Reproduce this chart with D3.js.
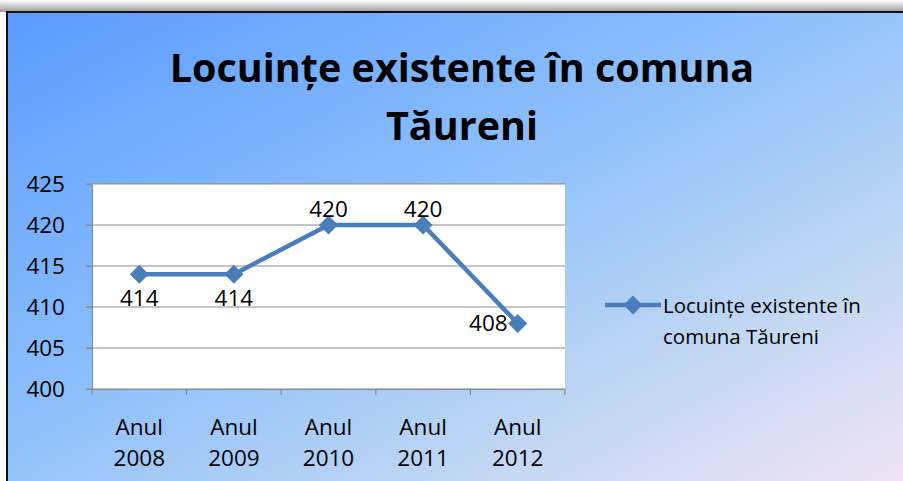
<!DOCTYPE html>
<html>
<head>
<meta charset="utf-8">
<script src="https://cdn.jsdelivr.net/npm/d3@7"></script>
<style>
  body { margin: 0; background: #fff; }
  text { font-family: "Open Sans", "Noto Sans", sans-serif; }
</style>
</head>
<body>
<div id="chart"></div>
<script>
// data
var categories = ["Anul 2008", "Anul 2009", "Anul 2010", "Anul 2011", "Anul 2012"];
var values = [414, 414, 420, 420, 408];
var labelPos = ["below", "below", "above", "above", "left"];
var yTicks = [400, 405, 410, 415, 420, 425];
var seriesName = "Locuințe existente în comuna Tăureni";
var titleLines = ["Locuințe existente în comuna", "Tăureni"];

var W = 903, H = 481;
var svg = d3.select("#chart").append("svg")
    .attr("width", W)
    .attr("height", H);

var defs = svg.append("defs");
var grad = defs.append("linearGradient")
    .attr("id", "bg")
    .attr("x1", "0%").attr("y1", "0%")
    .attr("x2", "100%").attr("y2", "100%");
grad.append("stop").attr("offset", "0%").attr("stop-color", "#5b9bff");
grad.append("stop").attr("offset", "45%").attr("stop-color", "#8fc1fb");
grad.append("stop").attr("offset", "75%").attr("stop-color", "#c4d8f2");
grad.append("stop").attr("offset", "100%").attr("stop-color", "#f4e4f6");

var shadow = defs.append("linearGradient")
    .attr("id", "shadow")
    .attr("x1", "0").attr("y1", "0").attr("x2", "0").attr("y2", "1");
shadow.append("stop").attr("offset", "0%").attr("stop-color", "#ffffff");
shadow.append("stop").attr("offset", "100%").attr("stop-color", "#9a9a9a");

// top shadow band
svg.append("rect")
    .attr("x", 0).attr("y", 0)
    .attr("width", W).attr("height", 12)
    .attr("fill", "url(#shadow)");

// chart frame
svg.append("rect")
    .attr("x", 7).attr("y", 12)
    .attr("width", W + 10).attr("height", H)
    .attr("fill", "url(#bg)")
    .attr("stroke", "#111")
    .attr("stroke-width", 2);

// title
svg.append("g")
    .selectAll("text")
    .data(titleLines)
    .join("text")
    .attr("x", 462)
    .attr("y", function(d, i) { return 82 + i * 58; })
    .attr("text-anchor", "middle")
    .attr("font-size", 39.5)
    .attr("font-weight", "bold")
    .attr("fill", "#000")
    .text(function(d) { return d; });

var plot = {left: 92, top: 184, right: 565, bottom: 389};

var x = d3.scaleBand()
    .domain(categories)
    .range([plot.left, plot.right]);

var y = d3.scaleLinear()
    .domain([400, 425])
    .range([plot.bottom, plot.top]);

// plot background
svg.append("rect")
    .attr("x", plot.left).attr("y", plot.top)
    .attr("width", plot.right - plot.left)
    .attr("height", plot.bottom - plot.top)
    .attr("fill", "#fff");

// gridlines
svg.append("g")
    .selectAll("line")
    .data(yTicks)
    .join("line")
    .attr("x1", plot.left - 6)
    .attr("x2", plot.right)
    .attr("y1", function(d) { return y(d); })
    .attr("y2", function(d) { return y(d); })
    .attr("stroke", "#8c8c8c")
    .attr("stroke-width", 1.2);

// y axis
var yAxis = svg.append("g")
    .attr("transform", "translate(" + plot.left + ",0)")
    .call(d3.axisLeft(y).tickValues(yTicks).tickSize(6).tickSizeOuter(0));
yAxis.select(".domain").attr("stroke", "#8c8c8c").attr("stroke-width", 1.2);
yAxis.selectAll(".tick line").attr("stroke", "#8c8c8c").attr("stroke-width", 1.2);
yAxis.selectAll(".tick text")
    .attr("x", -27)
    .attr("font-size", 22.5)
    .attr("font-family", "Open Sans")
    .attr("fill", "#000");

// x axis
var xAxis = svg.append("g")
    .attr("transform", "translate(0," + plot.bottom + ")")
    .call(d3.axisBottom(x).tickSize(0).tickSizeOuter(0));
xAxis.select(".domain").attr("stroke", "#8c8c8c").attr("stroke-width", 1.2);
xAxis.selectAll(".tick text").remove();
// tick marks at category boundaries
xAxis.selectAll(".bound")
    .data(d3.range(categories.length + 1))
    .join("line")
    .attr("x1", function(i) { return plot.left + i * x.step(); })
    .attr("x2", function(i) { return plot.left + i * x.step(); })
    .attr("y1", 0).attr("y2", 6)
    .attr("stroke", "#8c8c8c").attr("stroke-width", 1.2);
xAxis.selectAll(".tick")
    .append("text")
    .attr("text-anchor", "middle")
    .attr("font-size", 22.5)
    .attr("font-family", "Open Sans")
    .attr("fill", "#000")
    .selectAll("tspan")
    .data(function(d) { return d.split(" "); })
    .join("tspan")
    .attr("x", 0)
    .attr("y", function(d, i) { return 46 + i * 31; })
    .text(function(d) { return d; });

var cx = function(d, i) { return x(categories[i]) + x.bandwidth() / 2; };
var lineColor = "#4a7ebb";

// series line
var line = d3.line()
    .x(function(d, i) { return cx(d, i); })
    .y(function(d) { return y(d); });

svg.append("path")
    .datum(values)
    .attr("fill", "none")
    .attr("stroke", lineColor)
    .attr("stroke-width", 4.5)
    .attr("stroke-linejoin", "round")
    .attr("d", line);

// markers
var diamond = d3.symbol().type(d3.symbolDiamond2).size(230);
svg.append("g")
    .selectAll("path")
    .data(values)
    .join("path")
    .attr("transform", function(d, i) { return "translate(" + cx(d, i) + "," + y(d) + ")"; })
    .attr("d", diamond)
    .attr("fill", lineColor);

// data labels
svg.append("g")
    .selectAll("text")
    .data(values)
    .join("text")
    .attr("x", function(d, i) {
        var p = cx(d, i);
        return labelPos[i] === "left" ? p - 10 : p;
    })
    .attr("y", function(d, i) {
        var p = y(d);
        if (labelPos[i] === "below") return p + 32;
        if (labelPos[i] === "above") return p - 8;
        return p + 8;
    })
    .attr("text-anchor", function(d, i) { return labelPos[i] === "left" ? "end" : "middle"; })
    .attr("font-size", 22.5)
    .attr("fill", "#000")
    .text(function(d) { return d; });

// legend
var lg = svg.append("g").attr("transform", "translate(605,305)");
lg.append("line")
    .attr("x1", 0).attr("x2", 56)
    .attr("y1", 0).attr("y2", 0)
    .attr("stroke", lineColor)
    .attr("stroke-width", 4.5);
lg.append("path")
    .attr("transform", "translate(28,0)")
    .attr("d", diamond)
    .attr("fill", lineColor);
lg.append("text")
    .attr("font-size", 20.5)
    .attr("fill", "#000")
    .selectAll("tspan")
    .data(["Locuințe existente în", "comuna Tăureni"])
    .join("tspan")
    .attr("x", 58)
    .attr("y", function(d, i) { return 8 + i * 31; })
    .text(function(d) { return d; });
</script>
</body>
</html>
